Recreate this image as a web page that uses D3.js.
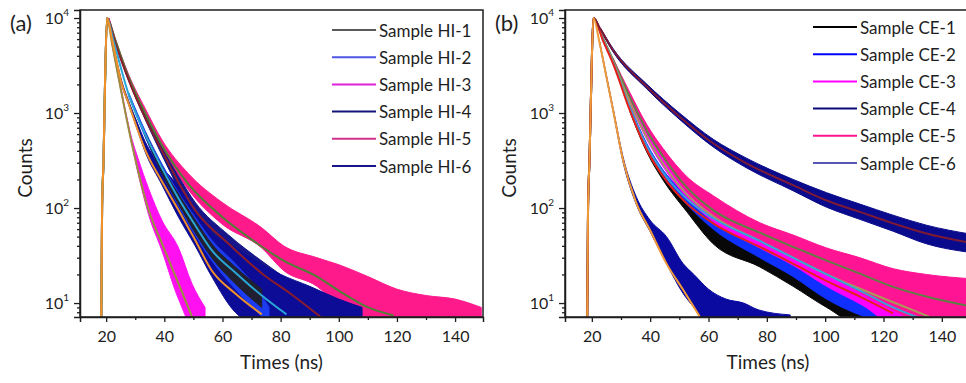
<!DOCTYPE html>
<html>
<head>
<meta charset="utf-8">
<script src="https://cdnjs.cloudflare.com/ajax/libs/d3/7.8.5/d3.min.js"></script>
<style>
  body { margin: 0; background: #fff; }
  svg { display: block; font-family: Lato, "Open Sans", sans-serif; }
</style>
</head>
<body>
<svg id="chart" width="966" height="383"></svg>
<script>
// ---- axis ticks ----
const xTicks = [20, 40, 60, 80, 100, 120, 140];
const xMinorTicks = [30, 50, 70, 90, 110, 130, 150];
const yTicks = [10, 100, 1000, 10000];

// ---- legend names ----
const namesA = ["Sample HI-1", "Sample HI-2", "Sample HI-3", "Sample HI-4", "Sample HI-5", "Sample HI-6"];
const namesB = ["Sample CE-1", "Sample CE-2", "Sample CE-3", "Sample CE-4", "Sample CE-5", "Sample CE-6"];
const legendColorsA = ["#5a5a5a", "#4f55e6", "#e020d8", "#14147a", "#d0308a", "#16168c"];
const legendColorsB = ["#000000", "#0000ff", "#ff00ff", "#0a0a78", "#ff1493", "#5656b4"];

// ---- rising edge (time ns, counts) ----
const riseA = [[18.3, 6], [18.6, 100], [19.1, 320], [19.6, 2000], [20.3, 10000]];
const riseB = [[18.4, 6], [18.7, 100], [19.2, 320], [19.8, 2000], [20.5, 10000]];

// ---- panel (a) measured decays: [time, low, high] ----
const hi5Band = [[21, 9500, 10000], [23, 5800, 6300], [27.7, 2300, 2550], [33.4, 950, 1120], [39.2, 420, 520],
  [48.3, 155, 230], [59.8, 68, 115], [73.5, 38, 62], [81, 22, 40], [92.5, 15, 30], [100.5, 9, 25],
  [110, 6, 19], [120, 6, 14], [130, 6, 12], [140, 6, 11], [149, 6, 9]];
const hi3Band = [[22, 5300, 5600], [24.2, 2350, 2550], [28.8, 470, 540], [31, 230, 330], [34.6, 85, 160],
  [39.1, 36, 75], [44.9, 11, 38], [49.5, 6, 16], [54, 6, 9]];
const hi4Band = [[23, 5500, 5800], [27.7, 2200, 2400], [33.4, 860, 960], [39.2, 360, 430], [44.9, 160, 215],
  [50.6, 75, 115], [62.1, 32, 52], [74, 14, 27], [83.3, 8, 17], [93.6, 6, 11], [100, 6, 8]];
const hi6Band = [[22, 5900, 6200], [25.4, 1950, 2150], [27.7, 1230, 1350], [30.5, 700, 820], [33.4, 390, 500],
  [39.2, 175, 270], [44.9, 80, 170], [50.6, 40, 95], [56.3, 19, 55], [64.4, 8, 38], [72, 6, 27],
  [80, 6, 20], [90, 6, 15], [100, 6, 11], [108, 6, 9]];
const hi2Band = [[27.7, 1520, 1650], [33.4, 560, 650], [39.2, 230, 290], [44.9, 105, 145], [50.6, 52, 80],
  [56.3, 28, 46], [64.4, 14, 26], [72, 8, 14], [76, 6, 9]];
const hi1Band = [[33.4, 580, 620], [39.2, 230, 270], [44.9, 110, 140], [50.6, 55, 75], [56.3, 30, 42],
  [64.4, 16, 24], [73.5, 9, 14]];

// ---- panel (a) fitted curves: [time, counts] ----
const hi5Fit = [[23, 6000], [27.7, 2400], [33.4, 1000], [39.2, 457], [48.3, 178], [59.8, 81], [69.5, 48],
  [81, 28], [92.5, 19], [100.5, 13.2], [109.7, 9.1], [118.8, 7.4]];
const hi3Fit = [[22, 5400], [24.2, 2400], [28.8, 480], [34.6, 95], [39.1, 43], [44.9, 16], [49.5, 7.2]];
const hi4Fit = [[23, 5600], [27.7, 2240], [33.4, 890], [39.2, 400], [44.9, 186], [50.6, 95], [62.1, 42],
  [74, 20], [83.3, 12.6], [93.6, 7.2]];
const hi2Fit = [[22.5, 5800], [27.7, 1580], [33.4, 600], [39.2, 263], [44.9, 126], [50.6, 66], [56.3, 36],
  [64.4, 21], [73.5, 12], [82, 7.6]];
const hi6Fit = [[22, 6000], [25.4, 2000], [27.7, 1260], [33.4, 410], [39.2, 190], [44.9, 95], [50.6, 46],
  [56.3, 22], [64.4, 12.6], [73.5, 7.6]];

// ---- panel (b) measured decays ----
const ce1Band = [[33, 1040, 1100], [38.8, 390, 425], [44.5, 195, 222], [52.5, 92, 115], [61.6, 42, 72],
  [77.6, 24, 40], [89, 15, 27], [100.5, 9, 18], [111.9, 6, 12], [118, 6, 9]];
const ce2Band = [[33, 1100, 1200], [38.8, 430, 480], [44.5, 220, 250], [52.5, 110, 140], [61.6, 60, 90],
  [77.6, 30, 50], [89, 19, 34], [100.5, 11, 20], [111.9, 7.5, 15], [123.3, 6, 11], [128, 6, 9]];
const ce3Band = [[33, 1250, 1380], [38.8, 530, 620], [44.5, 270, 320], [52.5, 130, 160], [61.6, 72, 100],
  [77.6, 38, 58], [89, 25, 40], [100.5, 15, 28], [112.8, 9.5, 19], [124, 6, 14], [136, 6, 11], [150, 6, 9]];
const ce5Band = [[27.3, 3500, 3750], [33, 1420, 1650], [38.8, 630, 760], [44.5, 330, 420], [52.5, 150, 215],
  [61.6, 85, 135], [77.6, 45, 70], [89, 30, 52], [100.5, 20, 38], [111.9, 13, 30], [123.3, 8.5, 23],
  [134.7, 6, 20], [150, 6, 18]];
const ce4Band = [[23, 7400, 7800], [27.3, 4400, 4750], [38.8, 1800, 2020], [50.2, 850, 990], [61.6, 440, 530],
  [73, 265, 335], [89, 152, 200], [100.5, 102, 145], [111.9, 76, 110], [123.3, 57, 84], [134.7, 42, 66],
  [150, 34, 53]];
const ce6Band = [[22.7, 5300, 5600], [25, 2350, 2500], [27.3, 1040, 1120], [30.7, 305, 345], [35.3, 108, 130],
  [39.9, 57, 75], [45.6, 26, 50], [51.3, 12.6, 26], [55, 9, 20], [60, 6, 14], [66, 6, 11], [72, 6, 10],
  [77, 6, 8.5], [88, 6, 7.5]];

// ---- panel (b) fitted curves ----
const ce5Fit = [[24, 6000], [27.3, 3630], [33, 1480], [38.8, 660], [44.5, 347], [52.5, 166], [61.6, 95],
  [77.6, 55], [89, 39], [100.5, 28], [111.9, 20.4], [123.3, 14.8], [134.7, 11.7], [150, 9.2]];
const ce3Fit = [[24, 5800], [27.3, 3500], [33, 1300], [38.8, 560], [44.5, 290], [52.5, 140], [61.6, 82],
  [77.6, 45], [89, 30], [100.5, 20], [112.8, 13.8], [124, 10], [135.6, 7.2]];
const ce2Fit = [[24, 5700], [27.3, 3400], [33, 1150], [38.8, 450], [44.5, 235], [52.5, 125], [61.6, 78],
  [77.6, 45], [89, 30], [100.5, 20], [111.9, 13.5], [123.3, 9], [132, 7]];
const ce1Fit = [[24, 5600], [27.3, 3300], [33, 1070], [38.8, 410], [44.5, 214], [52.5, 112], [61.6, 69],
  [77.6, 39], [83.3, 32], [100.5, 17], [111.9, 11.7], [123.3, 7.8]];
const ce4Fit = [[23, 7600], [27.3, 4570], [38.8, 1900], [50.2, 910], [61.6, 480], [73, 295], [89, 174],
  [100.5, 120], [111.9, 91], [123.3, 69], [134.7, 54], [150, 43]];
const ce6Fit = [[22.7, 5400], [25, 2400], [27.3, 1070], [30.7, 320], [35.3, 112], [39.9, 59], [45.6, 26],
  [51.3, 13.8], [57, 7.2]];

// ---- layout ----
const plotTop = 10, plotBottom = 317;
const yDomain = [7.13, 12140];

const panels = [
  {
    id: "a", label: "(a)", left: 80, right: 483, xDomain: [11, 149.6], labelX: 10, countsX: 24,
    bands: [[hi5Band, "#ff1a8c"], [hi3Band, "#ff10f0"], [hi4Band, "#16168a"], [hi6Band, "#0c0c96"],
            [hi2Band, "#1c3cf0"], [hi1Band, "#202030"]],
    fits: [[hi5Fit, "#4e7f34"], [hi4Fit, "#8c1c2c"], [hi2Fit, "#2aa6d6"], [hi3Fit, "#9a8f3c"], [hi6Fit, "#f0902a"]],
    rise: riseA,
    names: namesA, legendColors: legendColorsA, legX: 332, legY: 30
  },
  {
    id: "b", label: "(b)", left: 565, right: 971, xDomain: [10.8, 150], labelX: 495, countsX: 508,
    bands: [[ce1Band, "#080808"], [ce2Band, "#1030ff"], [ce3Band, "#ff00ff"], [ce5Band, "#ff1493"],
            [ce4Band, "#0a0a8c"], [ce6Band, "#0a0aa0"]],
    fits: [[ce5Fit, "#5f7f45"], [ce3Fit, "#a89a58"], [ce2Fit, "#3aa0d8"], [ce1Fit, "#e8201a"],
           [ce4Fit, "#7c1a36"], [ce6Fit, "#f09a38"]],
    rise: riseB,
    names: namesB, legendColors: legendColorsB, legX: 813, legY: 27
  }
];

const svg = d3.select("#chart");
const ink = "#1e1e1e";

const yMinor = [];
[1, 10, 100, 1000, 10000].forEach(d => { for (let k = 2; k <= 9; k++) yMinor.push(k * d); });

panels.forEach(p => {
  const x = d3.scaleLinear().domain(p.xDomain).range([p.left, p.right]);
  const y = d3.scaleLog().domain(yDomain).range([plotBottom, plotTop]);

  svg.append("clipPath").attr("id", "clip-" + p.id)
    .append("rect").attr("x", p.left).attr("y", plotTop).attr("width", p.right - p.left).attr("height", plotBottom - plotTop);

  const plot = svg.append("g").attr("clip-path", "url(#clip-" + p.id + ")");

  const area = d3.area()
    .x(d => x(d[0])).y0(d => y(d[1])).y1(d => y(d[2]))
    .curve(d3.curveMonotoneX);
  p.bands.forEach(([vals, color]) => {
    plot.append("path").datum(vals).attr("d", area).attr("fill", color).attr("stroke", color).attr("stroke-width", 1);
  });

  const line = d3.line().x(d => x(d[0])).y(d => y(d[1])).curve(d3.curveMonotoneX);
  p.fits.forEach(([vals, color]) => {
    plot.append("path").datum(p.rise.concat(vals)).attr("d", line)
      .attr("fill", "none").attr("stroke", color).attr("stroke-width", 2);
  });

  // frame
  svg.append("rect").attr("x", p.left).attr("y", plotTop).attr("width", p.right - p.left).attr("height", plotBottom - plotTop)
    .attr("fill", "none").attr("stroke", ink).attr("stroke-width", 1.5);

  // x axis
  svg.append("g").attr("transform", `translate(0,${plotBottom})`)
    .call(d3.axisBottom(x).tickValues(xTicks).tickSize(5).tickPadding(9).tickFormat(d3.format("d")));
  svg.append("g").attr("transform", `translate(0,${plotBottom})`)
    .call(d3.axisBottom(x).tickValues(xMinorTicks.filter(v => v <= p.xDomain[1])).tickSize(3).tickFormat(""))
    .select(".domain").remove();

  // y axis
  const gy = svg.append("g").attr("transform", `translate(${p.left},0)`)
    .call(d3.axisLeft(y).tickValues(yTicks).tickSize(6).tickPadding(5).tickFormat(""));
  svg.append("g").attr("transform", `translate(${p.left},0)`)
    .call(d3.axisLeft(y).tickValues(yMinor.filter(v => v >= yDomain[0] && v <= yDomain[1])).tickSize(3).tickFormat(""))
    .select(".domain").remove();

  gy.selectAll(".tick text").each(function (d) {
    const t = d3.select(this);
    t.attr("x", -11);
    t.append("tspan").text("10");
    t.append("tspan").attr("dy", "-0.75em").attr("font-size", "10px").text(Math.round(Math.log10(d)));
  });

  svg.selectAll(".domain").attr("stroke", ink).attr("stroke-width", 1.5);
  svg.selectAll(".tick line").attr("stroke", ink).attr("stroke-width", 1.3);
  svg.selectAll(".tick text").attr("fill", ink).attr("font-size", "16px").attr("font-family", "Lato, sans-serif");

  // titles
  svg.append("text").attr("x", p.labelX).attr("y", 31).attr("font-size", "22px").attr("fill", ink).text(p.label);
  svg.append("text").attr("transform", `translate(${p.countsX},${168}) rotate(-90)`)
    .attr("text-anchor", "middle").attr("dominant-baseline", "central")
    .attr("font-size", "19px").attr("fill", ink).text("Counts");
  svg.append("text").attr("x", (p.left + p.right) / 2).attr("y", 369)
    .attr("text-anchor", "middle").attr("font-size", "19px").attr("fill", ink).text("Times (ns)");

  // legend
  const leg = svg.append("g");
  p.names.forEach((name, i) => {
    const ly = p.legY + i * 27.2;
    leg.append("line").attr("x1", p.legX).attr("x2", p.legX + 44).attr("y1", ly).attr("y2", ly)
      .attr("stroke", p.legendColors[i]).attr("stroke-width", 2);
    leg.append("text").attr("x", p.legX + 47).attr("y", ly).attr("dominant-baseline", "central")
      .attr("font-size", "17px").attr("fill", ink).text(name);
  });
});
</script>
</body>
</html>
